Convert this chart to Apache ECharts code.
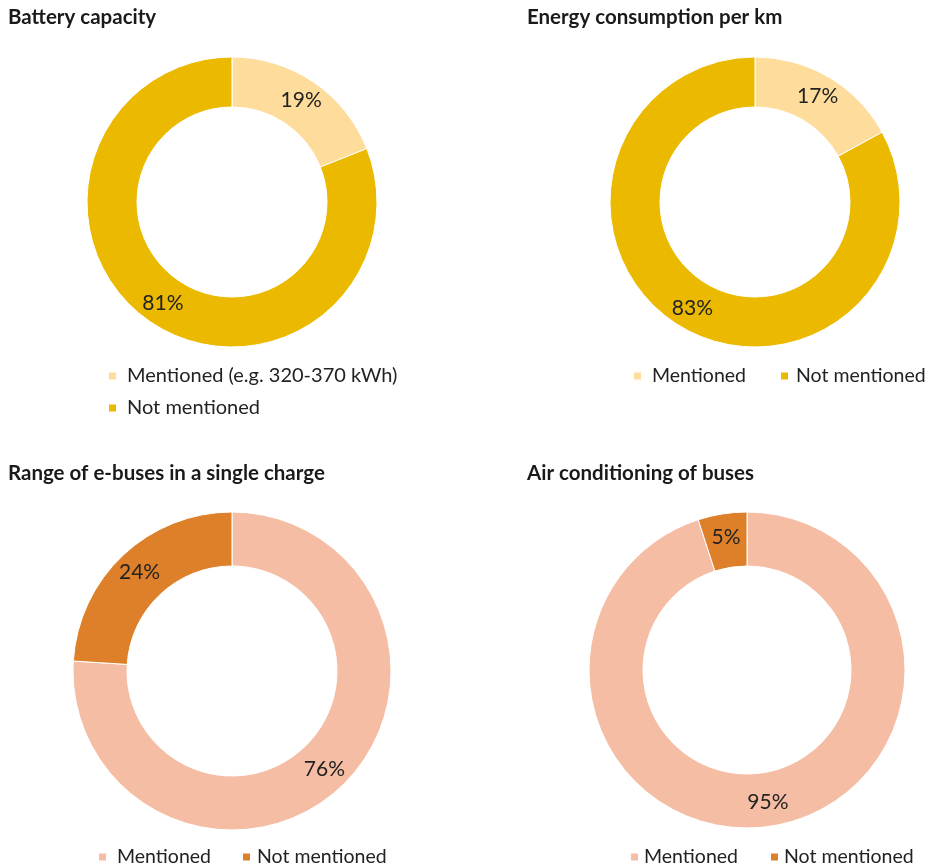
<!DOCTYPE html>
<html>
<head>
<meta charset="utf-8">
<script src="https://cdn.jsdelivr.net/npm/echarts@6/dist/echarts.min.js"></script>
<style>
  html, body { margin: 0; padding: 0; background: #fff; }
  #wrap { position: relative; width: 928px; height: 868px; }
  .q { position: absolute; }
</style>
</head>
<body>
<div id="wrap">
  <div id="c1" class="q" style="left:0;top:0;width:464px;height:440px;"></div>
  <div id="c2" class="q" style="left:400px;top:0;width:528px;height:440px;"></div>
  <div id="c3" class="q" style="left:0;top:440px;width:464px;height:428px;"></div>
  <div id="c4" class="q" style="left:400px;top:440px;width:528px;height:428px;"></div>
</div>
<script>
// ---- data ----
const titles = [
  "Battery capacity",
  "Energy consumption per km",
  "Range of e-buses in a single charge",
  "Air conditioning of buses"
];
const batteryLabels = ["Mentioned (e.g. 320-370 kWh)", "Not mentioned"];
const batteryValues = [19, 81];
const energyLabels = ["Mentioned", "Not mentioned"];
const energyValues = [17, 83];
const rangeLabels = ["Mentioned", "Not mentioned"];
const rangeValues = [76, 24];
const airLabels = ["Mentioned", "Not mentioned"];
const airValues = [95, 5];

const yellowColors = ["#FEDD9C", "#EBB900"];
const orangeColors = ["#F5BEA4", "#DE8029"];

const FONT = "Lato";
const TXT = "#222222";

function makeOption(cfg) {
  const pads = cfg.textPads || [0, 0];
  return {
    animation: false,
    title: {
      text: cfg.title,
      left: cfg.titleLeft, top: cfg.titleTop,
      padding: 0,
      textStyle: { fontFamily: FONT, fontWeight: "bold", fontSize: 20.5, color: "#1a1a1a" }
    },
    legend: Object.assign({
      data: cfg.labels.map((n, i) => ({ name: n, textStyle: { padding: [0, 0, 0, pads[i]] } })),
      icon: "rect",
      itemWidth: 9,
      itemHeight: 9,
      padding: 0,
      width: 500,
      selectedMode: false,
      textStyle: { fontFamily: FONT, fontSize: cfg.legendSize, lineHeight: 20, color: TXT }
    }, cfg.legend),
    series: [{
      type: "pie",
      center: cfg.center,
      radius: cfg.radius,
      startAngle: 90,
      clockwise: true,
      silent: true,
      avoidLabelOverlap: false,
      label: {
        show: true,
        position: "inside",
        formatter: "{c}%",
        fontFamily: FONT,
        fontSize: 21,
        color: TXT
      },
      labelLine: { show: false },
      itemStyle: { borderColor: "#ffffff", borderWidth: 1 },
      data: cfg.labels.map((n, i) => ({ name: n, value: cfg.values[i], itemStyle: { color: cfg.colors[i] } }))
    }]
  };
}

echarts.init(document.getElementById("c1")).setOption(makeOption({
  title: titles[0], titleLeft: 8, titleTop: 7,
  labels: batteryLabels, values: batteryValues, colors: yellowColors,
  center: [232, 202], radius: [95, 145],
  legend: { orient: "vertical", left: 107, top: 366, itemGap: 12 },
  legendSize: 20, textPads: [5, 5]
}));
echarts.init(document.getElementById("c2")).setOption(makeOption({
  title: titles[1], titleLeft: 127, titleTop: 7,
  labels: energyLabels, values: energyValues, colors: yellowColors,
  center: [355, 202], radius: [95, 145],
  legend: { orient: "horizontal", left: 232, top: 366, itemGap: 33 },
  legendSize: 19.5, textPads: [5, 2]
}));
echarts.init(document.getElementById("c3")).setOption(makeOption({
  title: titles[2], titleLeft: 8, titleTop: 23,
  labels: rangeLabels, values: rangeValues, colors: orangeColors,
  center: [232, 231], radius: [105, 159],
  legend: { orient: "horizontal", left: 97, top: 407, itemGap: 30 },
  legendSize: 19.5, textPads: [5, 1]
}));
echarts.init(document.getElementById("c4")).setOption(makeOption({
  title: titles[3], titleLeft: 127, titleTop: 23,
  labels: airLabels, values: airValues, colors: orangeColors,
  center: [347, 230], radius: [104, 158],
  legend: { orient: "horizontal", left: 229, top: 407, itemGap: 31 },
  legendSize: 19.5, textPads: [0, 0]
}));
</script>
</body>
</html>
